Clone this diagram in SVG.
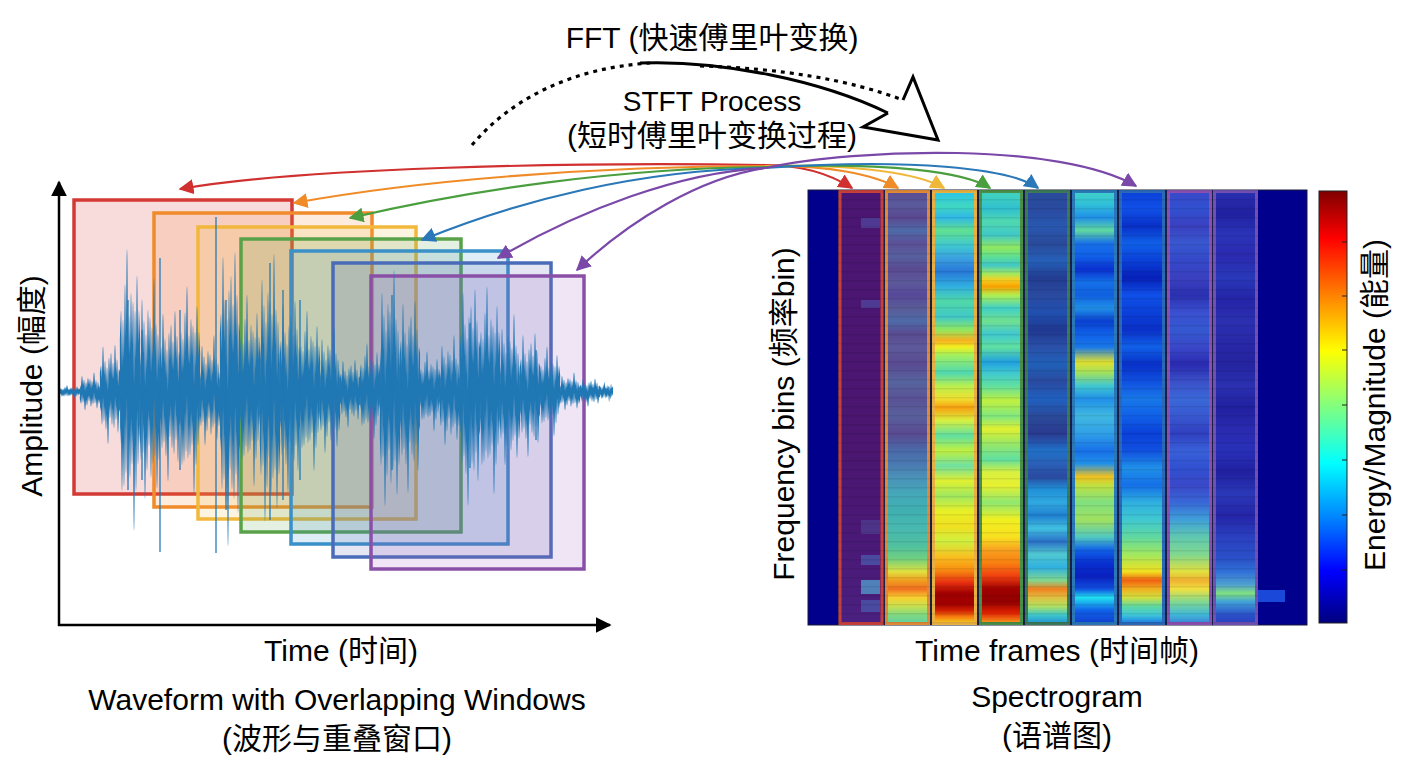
<svg xmlns="http://www.w3.org/2000/svg" width="1408" height="768" viewBox="0 0 1408 768">
<style>
text{font-family:"Liberation Sans","Noto Sans CJK SC",sans-serif;fill:#000;}
.t30{font-size:30px}
.t28{font-size:28px}
.wave{fill:none;stroke:#1f77b4;stroke-width:1.25;vector-effect:non-scaling-stroke;stroke-linejoin:round}
.win{stroke-width:3.5;fill-opacity:0.16}
.conn{fill:none;stroke-width:2.2}
.col{stroke-width:3}
.axis{stroke:#000;stroke-width:2.5;fill:none}
</style>
<defs>
<marker id="m-red" viewBox="0 0 10 10" refX="9" refY="5" markerWidth="15" markerHeight="15" markerUnits="userSpaceOnUse" orient="auto"><path d="M0,0 L10,5 L0,10 z" fill="#d03030"/></marker>
<marker id="m-orange" viewBox="0 0 10 10" refX="9" refY="5" markerWidth="15" markerHeight="15" markerUnits="userSpaceOnUse" orient="auto"><path d="M0,0 L10,5 L0,10 z" fill="#f08c28"/></marker>
<marker id="m-yellow" viewBox="0 0 10 10" refX="9" refY="5" markerWidth="15" markerHeight="15" markerUnits="userSpaceOnUse" orient="auto"><path d="M0,0 L10,5 L0,10 z" fill="#f0b83a"/></marker>
<marker id="m-green" viewBox="0 0 10 10" refX="9" refY="5" markerWidth="15" markerHeight="15" markerUnits="userSpaceOnUse" orient="auto"><path d="M0,0 L10,5 L0,10 z" fill="#4a9e3e"/></marker>
<marker id="m-blue" viewBox="0 0 10 10" refX="9" refY="5" markerWidth="15" markerHeight="15" markerUnits="userSpaceOnUse" orient="auto"><path d="M0,0 L10,5 L0,10 z" fill="#2a78b8"/></marker>
<marker id="m-purple" viewBox="0 0 10 10" refX="9" refY="5" markerWidth="15" markerHeight="15" markerUnits="userSpaceOnUse" orient="auto"><path d="M0,0 L10,5 L0,10 z" fill="#7a48a8"/></marker>
<marker id="m-black" viewBox="0 0 10 10" refX="9" refY="5" markerWidth="16" markerHeight="16" markerUnits="userSpaceOnUse" orient="auto"><path d="M0,0 L10,5 L0,10 z" fill="#000"/></marker>

<path id="n1" d="M0,0 L1,-0.3 L2,0.5 L3,-0.2 L4,0.45 L5,-0.6 L6,0.3 L7,-1 L8,0.4 L9,-0.25 L10,0.35 L11,-0.5 L12,0.2 L13,-0.4 L14,0.95 L15,-0.3 L16,0.5 L17,-0.7 L18,0.2 L19,-0.3 L20,0"/>
<path id="n2" d="M0,0 L1,0.35 L2,-0.7 L3,0.25 L4,-0.4 L5,0.9 L6,-0.2 L7,0.5 L8,-0.55 L9,0.15 L10,-0.45 L11,0.6 L12,-0.3 L13,0.4 L14,-1 L15,0.3 L16,-0.35 L17,0.75 L18,-0.2 L19,0.35 L20,0"/>
<path id="n3" d="M0,0 L1,-0.2 L2,0.4 L3,-0.8 L4,0.3 L5,-0.35 L6,0.55 L7,-0.15 L8,1 L9,-0.45 L10,0.2 L11,-0.6 L12,0.4 L13,-0.3 L14,0.5 L15,-0.85 L16,0.25 L17,-0.4 L18,0.65 L19,-0.1 L20,0"/>

<pattern id="rows" x="0" y="190" width="20" height="9" patternUnits="userSpaceOnUse"><rect x="0" y="0" width="20" height="1.5" fill="#000" fill-opacity="0.08"/></pattern>

<linearGradient id="jet" x1="0" y1="0" x2="0" y2="1">
<stop offset="0" stop-color="#7f0000"/><stop offset="0.11" stop-color="#ff0000"/><stop offset="0.24" stop-color="#ff8000"/><stop offset="0.37" stop-color="#ffff00"/><stop offset="0.5" stop-color="#80ff80"/><stop offset="0.63" stop-color="#00ffff"/><stop offset="0.76" stop-color="#0080ff"/><stop offset="0.88" stop-color="#0000ff"/><stop offset="1" stop-color="#00007f"/>
</linearGradient>

<linearGradient id="c1" x1="0" y1="0" x2="0" y2="1">
<stop offset="0" stop-color="#4a1672"/><stop offset="0.6" stop-color="#4a1670"/><stop offset="0.85" stop-color="#4a1a78"/><stop offset="1" stop-color="#4a2080"/>
</linearGradient>
<linearGradient id="c2" x1="0" y1="0" x2="0" y2="1">
<stop offset="0%" stop-color="#5a4a92"/><stop offset="3%" stop-color="#5a5a9c"/><stop offset="6%" stop-color="#5a4890"/><stop offset="9%" stop-color="#4e6aa8"/><stop offset="12%" stop-color="#5c5098"/><stop offset="15%" stop-color="#56609e"/><stop offset="18%" stop-color="#5a4a92"/><stop offset="21%" stop-color="#5c5a9a"/><stop offset="24%" stop-color="#56489a"/><stop offset="27%" stop-color="#5a5c98"/><stop offset="30%" stop-color="#4e6aa8"/><stop offset="33%" stop-color="#5a4a90"/><stop offset="36%" stop-color="#5c5a9a"/><stop offset="40%" stop-color="#5a4a92"/><stop offset="44%" stop-color="#56649e"/><stop offset="48%" stop-color="#5a5296"/><stop offset="52%" stop-color="#58609c"/><stop offset="56%" stop-color="#5a4a92"/><stop offset="60%" stop-color="#4a6aa8"/><stop offset="63%" stop-color="#4a78b0"/><stop offset="66%" stop-color="#4a90b8"/><stop offset="70%" stop-color="#45a8b8"/><stop offset="74%" stop-color="#40b0b0"/><stop offset="78%" stop-color="#48b8b0"/><stop offset="82%" stop-color="#50c0a0"/><stop offset="85%" stop-color="#70d080"/><stop offset="88%" stop-color="#e0e040"/><stop offset="90%" stop-color="#f0a020"/><stop offset="92%" stop-color="#f07020"/><stop offset="94%" stop-color="#f8d030"/><stop offset="96%" stop-color="#c8e050"/><stop offset="98%" stop-color="#80d880"/><stop offset="100%" stop-color="#60d0a0"/>
</linearGradient>
<linearGradient id="c3" x1="0" y1="0" x2="0" y2="1">
<stop offset="1%" stop-color="#30c8e0"/><stop offset="3.4%" stop-color="#40d8c0"/><stop offset="6%" stop-color="#30b8e8"/><stop offset="9%" stop-color="#60e090"/><stop offset="12.5%" stop-color="#40c8d0"/><stop offset="15.5%" stop-color="#3aa0e0"/><stop offset="18.5%" stop-color="#2878d8"/><stop offset="22%" stop-color="#30b0e0"/><stop offset="25.5%" stop-color="#50d8a8"/><stop offset="29%" stop-color="#40c8c8"/><stop offset="32%" stop-color="#90e860"/><stop offset="34.5%" stop-color="#f8b020"/><stop offset="36%" stop-color="#f0f020"/><stop offset="38%" stop-color="#a0f060"/><stop offset="42%" stop-color="#50d8b0"/><stop offset="45%" stop-color="#b8f050"/><stop offset="48%" stop-color="#f0e030"/><stop offset="50%" stop-color="#f8a010"/><stop offset="53%" stop-color="#d8f040"/><stop offset="56.5%" stop-color="#60e0a0"/><stop offset="60%" stop-color="#c0f040"/><stop offset="63.5%" stop-color="#70e0a0"/><stop offset="67%" stop-color="#e0f030"/><stop offset="70.5%" stop-color="#a0e860"/><stop offset="74%" stop-color="#e8f028"/><stop offset="77.5%" stop-color="#f0e020"/><stop offset="81%" stop-color="#d0f040"/><stop offset="84.5%" stop-color="#f8c020"/><stop offset="87.5%" stop-color="#f89010"/><stop offset="90.5%" stop-color="#e83010"/><stop offset="93%" stop-color="#a00000"/><stop offset="95.5%" stop-color="#a00000"/><stop offset="97%" stop-color="#d02000"/><stop offset="98.5%" stop-color="#f88010"/><stop offset="100%" stop-color="#f0d020"/>
</linearGradient>
<linearGradient id="c4" x1="0" y1="0" x2="0" y2="1">
<stop offset="1%" stop-color="#40d0c0"/><stop offset="4%" stop-color="#30c0d0"/><stop offset="7%" stop-color="#50d8b0"/><stop offset="10%" stop-color="#40c8c8"/><stop offset="13%" stop-color="#90e860"/><stop offset="15%" stop-color="#60e090"/><stop offset="17%" stop-color="#40c8c8"/><stop offset="19%" stop-color="#a0e860"/><stop offset="20.5%" stop-color="#f8d020"/><stop offset="22%" stop-color="#f8a000"/><stop offset="24%" stop-color="#b0f050"/><stop offset="27%" stop-color="#40d0c8"/><stop offset="30%" stop-color="#70e090"/><stop offset="33%" stop-color="#40c8d0"/><stop offset="36%" stop-color="#60e0a0"/><stop offset="39.5%" stop-color="#20a0e0"/><stop offset="42%" stop-color="#40c8d0"/><stop offset="45%" stop-color="#60e0a0"/><stop offset="48.5%" stop-color="#c0f040"/><stop offset="52%" stop-color="#80e880"/><stop offset="55%" stop-color="#e0f030"/><stop offset="58%" stop-color="#a0e860"/><stop offset="62%" stop-color="#60e0a0"/><stop offset="65%" stop-color="#d8f040"/><stop offset="68%" stop-color="#e8f030"/><stop offset="72%" stop-color="#90e870"/><stop offset="76%" stop-color="#f0f020"/><stop offset="80%" stop-color="#f8e020"/><stop offset="83%" stop-color="#f8a020"/><stop offset="86%" stop-color="#f88010"/><stop offset="89%" stop-color="#f04010"/><stop offset="92%" stop-color="#a00000"/><stop offset="95%" stop-color="#900000"/><stop offset="97.5%" stop-color="#e02000"/><stop offset="100%" stop-color="#f8a020"/>
</linearGradient>
<linearGradient id="c5" x1="0" y1="0" x2="0" y2="1">
<stop offset="0%" stop-color="#2a4a9a"/><stop offset="4%" stop-color="#2a4aa0"/><stop offset="8%" stop-color="#2858b0"/><stop offset="12%" stop-color="#2a4a9a"/><stop offset="16%" stop-color="#2560b8"/><stop offset="20%" stop-color="#223c90"/><stop offset="24%" stop-color="#2a4aa0"/><stop offset="28%" stop-color="#2050b0"/><stop offset="32%" stop-color="#203890"/><stop offset="36%" stop-color="#2a50a8"/><stop offset="40%" stop-color="#2060b8"/><stop offset="44%" stop-color="#2a4aa0"/><stop offset="48%" stop-color="#2060c0"/><stop offset="52%" stop-color="#2a4a9a"/><stop offset="56%" stop-color="#2a3a90"/><stop offset="60%" stop-color="#2070c8"/><stop offset="63%" stop-color="#2a60b8"/><stop offset="66%" stop-color="#2a4aa0"/><stop offset="69%" stop-color="#2090d8"/><stop offset="72%" stop-color="#30a8e0"/><stop offset="75%" stop-color="#2080d0"/><stop offset="78%" stop-color="#40c0e0"/><stop offset="81%" stop-color="#2a70c8"/><stop offset="84%" stop-color="#50c8d0"/><stop offset="87%" stop-color="#30b0e0"/><stop offset="90%" stop-color="#80d890"/><stop offset="92%" stop-color="#f08020"/><stop offset="94%" stop-color="#e0c040"/><stop offset="96%" stop-color="#b0e060"/><stop offset="98%" stop-color="#40c8c8"/><stop offset="100%" stop-color="#2090d8"/>
</linearGradient>
<linearGradient id="c6" x1="0" y1="0" x2="0" y2="1">
<stop offset="0%" stop-color="#40d0c8"/><stop offset="3%" stop-color="#30c0d8"/><stop offset="6%" stop-color="#2090e8"/><stop offset="9%" stop-color="#60d8a0"/><stop offset="12%" stop-color="#1870e8"/><stop offset="15%" stop-color="#1060e8"/><stop offset="18%" stop-color="#0a30d0"/><stop offset="21%" stop-color="#1470e8"/><stop offset="24%" stop-color="#1060e0"/><stop offset="27%" stop-color="#2090e8"/><stop offset="30%" stop-color="#0a40d0"/><stop offset="33%" stop-color="#1060e8"/><stop offset="36%" stop-color="#1878e8"/><stop offset="39.5%" stop-color="#e0e030"/><stop offset="42%" stop-color="#a0e060"/><stop offset="45%" stop-color="#40c8d0"/><stop offset="48%" stop-color="#2090e8"/><stop offset="52%" stop-color="#40b8e0"/><stop offset="56%" stop-color="#30a0e8"/><stop offset="60%" stop-color="#1870e8"/><stop offset="63%" stop-color="#2090e8"/><stop offset="66%" stop-color="#f0c020"/><stop offset="68%" stop-color="#c0e040"/><stop offset="72%" stop-color="#80e080"/><stop offset="76%" stop-color="#a0e060"/><stop offset="80%" stop-color="#50c8c0"/><stop offset="83%" stop-color="#1060e8"/><stop offset="86%" stop-color="#0830d0"/><stop offset="89%" stop-color="#0a20c0"/><stop offset="92%" stop-color="#1050e0"/><stop offset="94%" stop-color="#20e0f0"/><stop offset="97%" stop-color="#1060e8"/><stop offset="100%" stop-color="#1040d0"/>
</linearGradient>
<linearGradient id="c7" x1="0" y1="0" x2="0" y2="1">
<stop offset="0%" stop-color="#0a40d8"/><stop offset="4%" stop-color="#1050e8"/><stop offset="8%" stop-color="#0830c8"/><stop offset="12%" stop-color="#1060e8"/><stop offset="16%" stop-color="#0a40d8"/><stop offset="20%" stop-color="#0620b8"/><stop offset="24%" stop-color="#1050e8"/><stop offset="28%" stop-color="#0a40d8"/><stop offset="32%" stop-color="#0a30c8"/><stop offset="36%" stop-color="#1060e8"/><stop offset="40%" stop-color="#0830c8"/><stop offset="44%" stop-color="#1050e0"/><stop offset="48%" stop-color="#1878e8"/><stop offset="52%" stop-color="#1060e8"/><stop offset="56%" stop-color="#0a40d8"/><stop offset="60%" stop-color="#1050e0"/><stop offset="64%" stop-color="#2090e8"/><stop offset="68%" stop-color="#1470e8"/><stop offset="72%" stop-color="#30b0e0"/><stop offset="76%" stop-color="#40c8d0"/><stop offset="80%" stop-color="#60d8a0"/><stop offset="84%" stop-color="#a0e860"/><stop offset="88%" stop-color="#f0e020"/><stop offset="90%" stop-color="#f06010"/><stop offset="92%" stop-color="#f0b020"/><stop offset="94%" stop-color="#d0e040"/><stop offset="96%" stop-color="#60d8a0"/><stop offset="98%" stop-color="#40c8d8"/><stop offset="100%" stop-color="#1878e8"/>
</linearGradient>
<linearGradient id="c8" x1="0" y1="0" x2="0" y2="1">
<stop offset="0%" stop-color="#3a48c8"/><stop offset="4%" stop-color="#3050d0"/><stop offset="8%" stop-color="#3a40c0"/><stop offset="12%" stop-color="#3858d0"/><stop offset="16%" stop-color="#3448c8"/><stop offset="20%" stop-color="#3a40c0"/><stop offset="24%" stop-color="#2a30b0"/><stop offset="28%" stop-color="#3a50d0"/><stop offset="32%" stop-color="#3458d0"/><stop offset="36%" stop-color="#3a48c8"/><stop offset="40%" stop-color="#2a2ab0"/><stop offset="44%" stop-color="#3a50c8"/><stop offset="48%" stop-color="#3a68d8"/><stop offset="52%" stop-color="#3858d0"/><stop offset="56%" stop-color="#3040c0"/><stop offset="60%" stop-color="#3860d8"/><stop offset="64%" stop-color="#3050d0"/><stop offset="68%" stop-color="#3a48c8"/><stop offset="72%" stop-color="#3868d8"/><stop offset="76%" stop-color="#40a0d8"/><stop offset="80%" stop-color="#60c8b0"/><stop offset="84%" stop-color="#80d890"/><stop offset="88%" stop-color="#e0e040"/><stop offset="90%" stop-color="#f0b030"/><stop offset="92%" stop-color="#f0e040"/><stop offset="95%" stop-color="#80d890"/><stop offset="98%" stop-color="#40b8d8"/><stop offset="100%" stop-color="#3a80d8"/>
</linearGradient>
<linearGradient id="c9" x1="0" y1="0" x2="0" y2="1">
<stop offset="0%" stop-color="#2a30b0"/><stop offset="5%" stop-color="#2020a0"/><stop offset="10%" stop-color="#2a34b8"/><stop offset="15%" stop-color="#2a2ab0"/><stop offset="20%" stop-color="#2838b8"/><stop offset="25%" stop-color="#2424a8"/><stop offset="30%" stop-color="#2a30b0"/><stop offset="35%" stop-color="#2828a8"/><stop offset="40%" stop-color="#2424a0"/><stop offset="45%" stop-color="#2a30b0"/><stop offset="50%" stop-color="#2020a0"/><stop offset="55%" stop-color="#2a2ab0"/><stop offset="60%" stop-color="#2830b8"/><stop offset="65%" stop-color="#2020a0"/><stop offset="70%" stop-color="#2a38b8"/><stop offset="75%" stop-color="#2424a8"/><stop offset="80%" stop-color="#2a40c0"/><stop offset="85%" stop-color="#2a50c8"/><stop offset="88%" stop-color="#3070d8"/><stop offset="91%" stop-color="#50a0d0"/><stop offset="93%" stop-color="#80e080"/><stop offset="95%" stop-color="#40a0d8"/><stop offset="98%" stop-color="#2a50c8"/><stop offset="100%" stop-color="#2a40c0"/>
</linearGradient>
</defs>

<rect width="1408" height="768" fill="#fff"/>

<!-- Waveform panel -->
<g id="waveform-panel">
  <g id="windows">
    <rect class="win" x="74" y="200" width="218" height="294" fill="#d62728" stroke="#d33a35"/>
    <rect class="win" x="154" y="213" width="218" height="294" fill="#f08a2a" stroke="#f08a2a"/>
    <rect class="win" x="198" y="227" width="218" height="292" fill="#f2b83c" stroke="#f2b83c"/>
    <rect class="win" x="241" y="239" width="220" height="293" fill="#5aa24a" stroke="#5aa24a"/>
    <rect class="win" x="291" y="251" width="217" height="293" fill="#3a90c8" stroke="#3a90c8"/>
    <rect class="win" x="333" y="263" width="218" height="294" fill="#5a62b8" stroke="#4a6cb8"/>
    <rect class="win" x="371" y="276" width="213" height="293" fill="#9a60b8" stroke="#8a50a8"/>
  </g>
  <g id="signal">
    <use href="#n1" class="wave" transform="translate(60,392) scale(1,4)"/>
    <use href="#n2" class="wave" transform="translate(80,392) scale(1,12)"/>
    <use href="#n3" class="wave" transform="translate(100,392) scale(1,32)"/>
    <use href="#n1" class="wave" transform="translate(120,392) scale(1,88)"/>
    <use href="#n2" class="wave" transform="translate(140,392) scale(1,70)"/>
    <use href="#n3" class="wave" transform="translate(160,392) scale(1,55)"/>
    <use href="#n1" class="wave" transform="translate(180,392) scale(1,65)"/>
    <use href="#n2" class="wave" transform="translate(200,392) scale(1,35)"/>
    <use href="#n3" class="wave" transform="translate(220,392) scale(1,95)"/>
    <use href="#n1" class="wave" transform="translate(240,392) scale(1,60)"/>
    <use href="#n2" class="wave" transform="translate(260,392) scale(1,85)"/>
    <use href="#n3" class="wave" transform="translate(280,392) scale(1,62)"/>
    <use href="#n1" class="wave" transform="translate(300,392) scale(1,50)"/>
    <use href="#n2" class="wave" transform="translate(320,392) scale(1,40)"/>
    <use href="#n3" class="wave" transform="translate(340,392) scale(1,22)"/>
    <use href="#n1" class="wave" transform="translate(360,392) scale(1,30)"/>
    <use href="#n2" class="wave" transform="translate(380,392) scale(1,75)"/>
    <use href="#n3" class="wave" transform="translate(400,392) scale(1,62)"/>
    <use href="#n1" class="wave" transform="translate(420,392) scale(1,25)"/>
    <use href="#n2" class="wave" transform="translate(440,392) scale(1,35)"/>
    <use href="#n3" class="wave" transform="translate(460,392) scale(1,70)"/>
    <use href="#n1" class="wave" transform="translate(480,392) scale(1,65)"/>
    <use href="#n2" class="wave" transform="translate(500,392) scale(1,48)"/>
    <use href="#n3" class="wave" transform="translate(520,392) scale(1,40)"/>
    <use href="#n1" class="wave" transform="translate(540,392) scale(1,28)"/>
    <use href="#n2" class="wave" transform="translate(560,392) scale(1,12)"/>
    <use href="#n3" class="wave" transform="translate(580,392) scale(1,9)"/>
    <use href="#n1" class="wave" transform="translate(600,392) scale(0.65,6)"/>
    <path class="wave" d="M128,300 V490 M160,258 V552 M216,217 V553 M226,300 V510 M270,263 V520 M283,290 V500 M392,295 V470 M470,323 V468 M536,350 V440 M142,330 V480 M180,310 V470 M300,300 V480"/>
  </g>
  <g id="axes">
    <path class="axis" d="M59,626 V182" marker-end="url(#m-black)"/>
    <path class="axis" d="M58,625 H610" marker-end="url(#m-black)"/>
  </g>
  <text class="t30" transform="translate(42,386) rotate(-90)" text-anchor="middle">Amplitude (幅度)</text>
  <text class="t30" x="341" y="661" text-anchor="middle">Time (时间)</text>
  <text class="t30" x="337" y="710" text-anchor="middle">Waveform with Overlapping Windows</text>
  <text class="t30" x="337" y="749" text-anchor="middle">(波形与重叠窗口)</text>
</g>

<!-- Spectrogram -->
<g id="spectrogram">
  <rect x="808" y="190" width="499" height="435" fill="#00008c" stroke="#1a1a3a" stroke-width="1"/>
  <rect x="838" y="190" width="420" height="435" fill="#18204a"/>
  <rect class="col" x="840" y="191.5" width="42" height="432" fill="url(#c1)" stroke="#c8403c"/>
  <rect x="861" y="218" width="19" height="10" fill="#4e3a92"/>
  <rect x="861" y="300" width="19" height="8" fill="#4e3a92"/>
  <rect x="861" y="520" width="19" height="14" fill="#4e3488"/>
  <rect x="861" y="555" width="19" height="10" fill="#4a4aa0"/>
  <rect x="861" y="580" width="19" height="14" fill="#5080b8"/>
  <rect x="861" y="600" width="19" height="12" fill="#4a4aa0"/>
  <rect class="col" x="886.5" y="191.5" width="42" height="432" fill="url(#c2)" stroke="#e08a38"/>
  <rect class="col" x="933.5" y="191.5" width="42" height="432" fill="url(#c3)" stroke="#e8b040"/>
  <rect class="col" x="980.5" y="191.5" width="41" height="432" fill="url(#c4)" stroke="#4a9048"/>
  <rect class="col" x="1026.5" y="191.5" width="42" height="432" fill="url(#c5)" stroke="#3a7a58"/>
  <rect class="col" x="1073.5" y="191.5" width="42" height="432" fill="url(#c6)" stroke="#2a78b8"/>
  <rect class="col" x="1120.5" y="191.5" width="43" height="432" fill="url(#c7)" stroke="#2a68b8"/>
  <rect class="col" x="1168.5" y="191.5" width="42" height="432" fill="url(#c8)" stroke="#8a50b0"/>
  <rect class="col" x="1214.5" y="191.5" width="42" height="432" fill="url(#c9)" stroke="#7050b0"/>
  <rect x="1258" y="590" width="27" height="12" fill="#1a48d8"/>
  <rect x="838" y="190" width="420" height="435" fill="url(#rows)"/>
  <text class="t30" transform="translate(794,414) rotate(-90)" text-anchor="middle">Frequency bins (频率bin)</text>
  <text class="t30" x="1057" y="661" text-anchor="middle">Time frames (时间帧)</text>
  <text class="t30" x="1057" y="707" text-anchor="middle">Spectrogram</text>
  <text class="t30" x="1057" y="746" text-anchor="middle">(语谱图)</text>
</g>

<!-- Colorbar -->
<g id="colorbar">
  <rect x="1319" y="191" width="28" height="432" fill="url(#jet)" stroke="#222" stroke-width="1"/>
  <path d="M1342,242 H1347 M1342,296 H1347 M1342,350 H1347 M1342,405 H1347 M1342,460 H1347 M1342,515 H1347 M1342,570 H1347" stroke="#222" stroke-width="1"/>
  <text class="t30" transform="translate(1385,405) rotate(-90)" text-anchor="middle">Energy/Magnitude (能量)</text>
</g>

<!-- STFT process arrow -->
<g id="stft-arrow">
  <path d="M472,145 C510,100 570,68 650,63" fill="none" stroke="#000" stroke-width="3.2" stroke-dasharray="4 5"/>
  <path d="M700,66 C780,68 850,80 903,100" fill="none" stroke="#000" stroke-width="3.2" stroke-dasharray="4 5"/>
  <path d="M640,63 C720,60 820,80 888,113" fill="none" stroke="#000" stroke-width="3"/>
  <path d="M888,113 L863,127 L938,140 L913,77 L903,100" fill="#fff" stroke="#000" stroke-width="3" stroke-linejoin="miter"/>
  <text class="t30" x="712" y="48" text-anchor="middle">FFT (快速傅里叶变换)</text>
  <text class="t28" x="712" y="111" text-anchor="middle">STFT Process</text>
  <text class="t30" x="712" y="146" text-anchor="middle">(短时傅里叶变换过程)</text>
</g>

<!-- Connectors -->
<g id="connectors">
  <path class="conn" stroke="#d03030" d="M765,165 C560,162 300,168 180,189" marker-end="url(#m-red)"/>
  <path class="conn" stroke="#f08c28" d="M765,166 C600,166 420,180 294,203" marker-end="url(#m-orange)"/>
  <path class="conn" stroke="#4a9e3e" d="M765,167 C620,168 470,190 350,218" marker-end="url(#m-green)"/>
  <path class="conn" stroke="#2a78b8" d="M765,168 C640,170 520,200 422,240" marker-end="url(#m-blue)"/>
  <path class="conn" stroke="#7a48a8" d="M765,168 C680,172 580,210 498,258" marker-end="url(#m-purple)"/>
  <path class="conn" stroke="#7a48a8" d="M765,168 C700,178 630,220 577,270" marker-end="url(#m-purple)"/>
  <path class="conn" stroke="#d03030" d="M765,165 C800,165 830,174 852,188" marker-end="url(#m-red)"/>
  <path class="conn" stroke="#f08c28" d="M765,166 C830,165 875,175 898,188" marker-end="url(#m-orange)"/>
  <path class="conn" stroke="#f0b83a" d="M765,166 C860,164 920,174 944,188" marker-end="url(#m-yellow)"/>
  <path class="conn" stroke="#4a9e3e" d="M765,167 C890,162 965,172 990,188" marker-end="url(#m-green)"/>
  <path class="conn" stroke="#2a78b8" d="M765,168 C910,158 1010,168 1038,188" marker-end="url(#m-blue)"/>
  <path class="conn" stroke="#7a48a8" d="M765,168 C860,148 1060,142 1136,186" marker-end="url(#m-purple)"/>
</g>
</svg>
